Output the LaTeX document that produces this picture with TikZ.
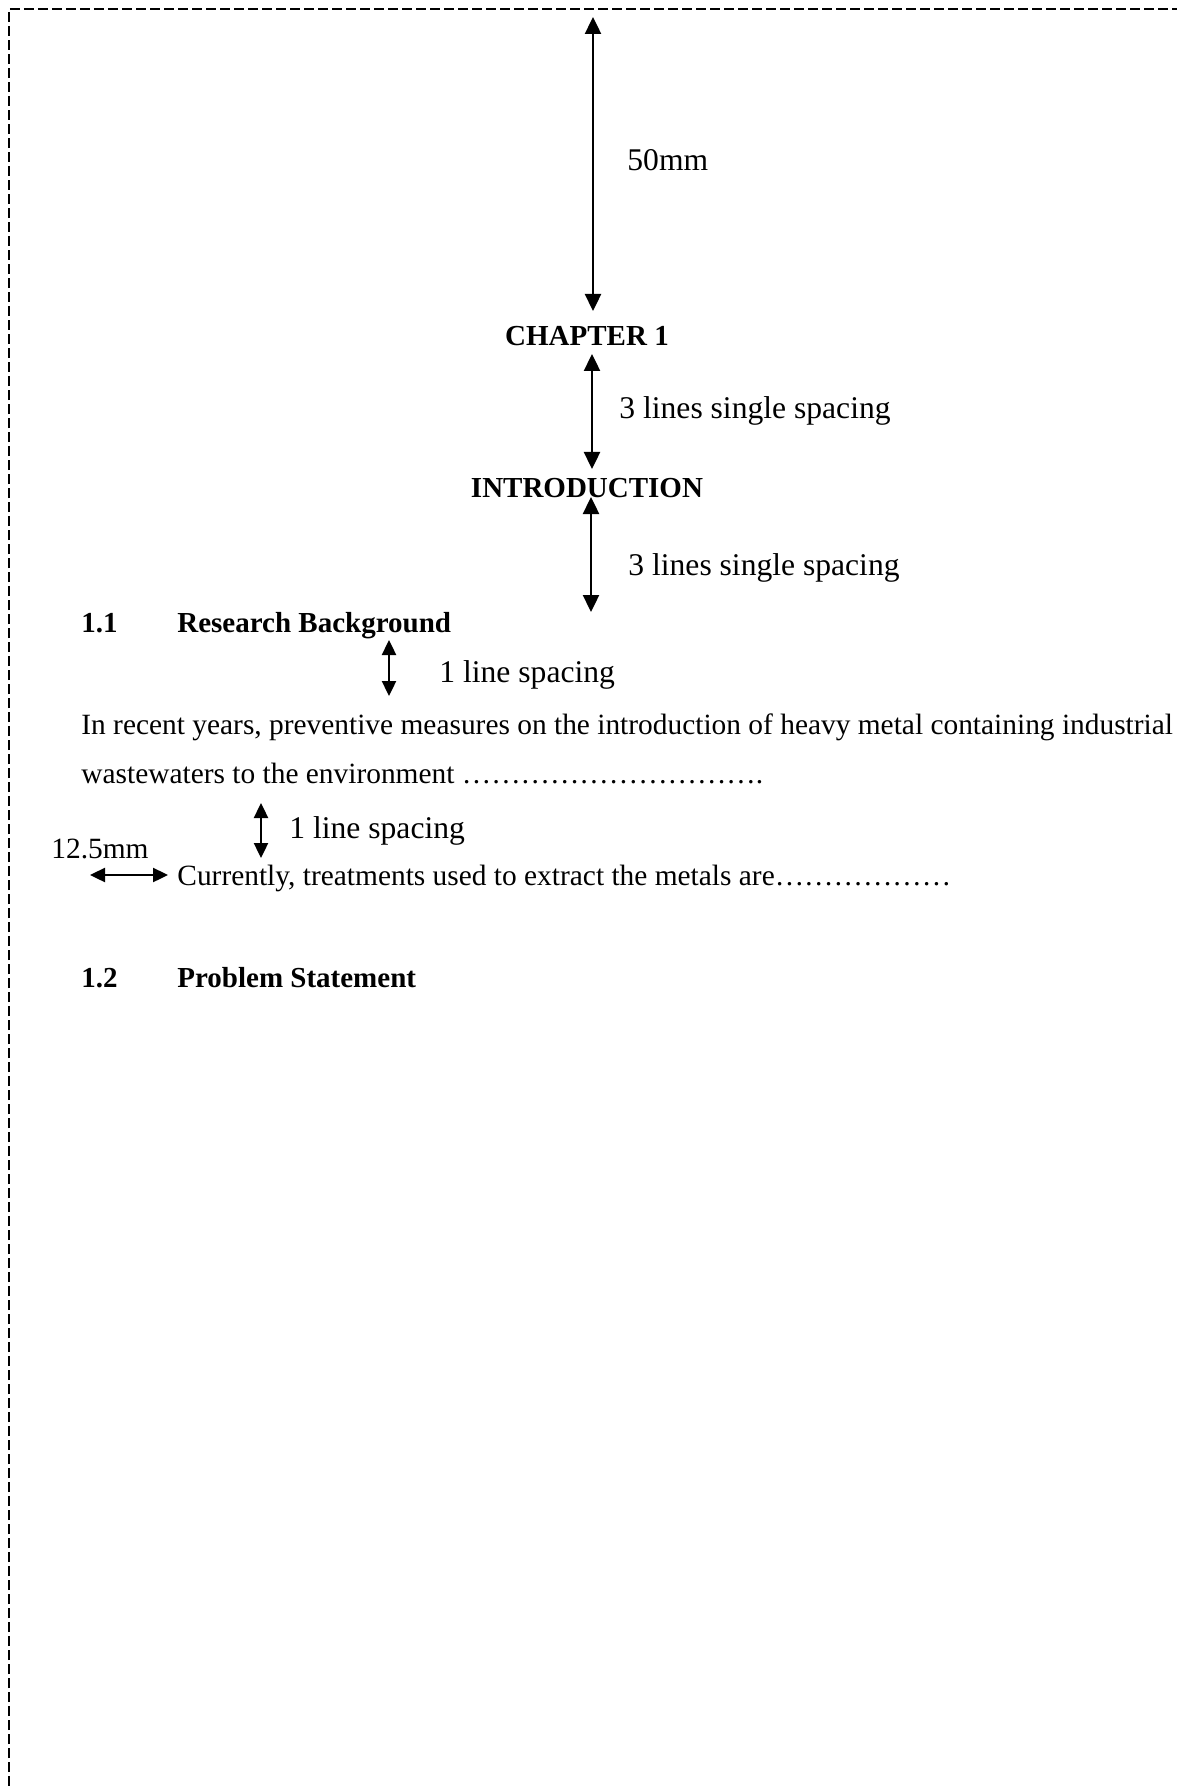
\documentclass[tikz,border=0pt]{standalone}
\usepackage{fontspec}
\setmainfont{Liberation Serif}
\usetikzlibrary{arrows.meta}
\newcommand\myell{…}
\begin{document}
\begin{tikzpicture}[x=0.5pt,y=-0.5pt,
 body/.style={inner sep=0pt, anchor=base west, font=\fontsize{14.7}{17}\selectfont},
 head/.style={inner sep=0pt, anchor=base, font=\fontsize{14.5}{17}\selectfont\bfseries},
 sec/.style={inner sep=0pt, anchor=base west, font=\fontsize{14.5}{17}\selectfont\bfseries},
 lbl/.style={inner sep=0pt, anchor=base west, font=\fontsize{15.8}{19}\selectfont},
 dim/.style={line width=1.2pt, {Triangle[length=8.5pt,width=8pt]}-{Triangle[length=8.5pt,width=8pt]}},
 dimsm/.style={line width=1.2pt, {Triangle[length=7.5pt,width=7pt]}-{Triangle[length=7.5pt,width=7pt]}},
 border/.style={line width=1pt, dash pattern=on 5pt off 2pt}]
\useasboundingbox (0,0) rectangle (1177,1786);
% page border (dashed)
\coordinate (bl) at (9,1786);
\coordinate (tl) at (9,9);
\coordinate (tr) at (1177,9);
\draw[border] (bl) -- (tl) -- (tr);
% texts
\node[head] (ch) at (587,346) {CHAPTER 1};
\node[head] (intro) at (587,497) {INTRODUCTION};
\node[lbl] (l50) at (627,171) {50mm};
\node[lbl] (l3a) at (619,419) {3 lines single spacing};
\node[lbl] (l3b) at (628,575) {3 lines single spacing};
\node[sec] (s11n) at (81,632) {1.1};
\node[sec] (s11) at (177,632) {Research Background};
\node[lbl] (l1a) at (439,682) {1 line spacing};
\node[body] (p1) at (81,734) {In recent years, preventive measures on the introduction of heavy metal containing industrial};
\node[body] (p2) at (81,783) {wastewaters to the environment \myell\myell\myell\myell\myell\myell\myell\myell\myell\myell.};
\node[lbl] (l1b) at (289,838) {1 line spacing};
\node[body] (l125) at (51,858) {12.5mm};
\node[body] (p3) at (177,885) {Currently, treatments used to extract the metals are\myell\myell\myell\myell\myell\myell};
\node[sec] (s12n) at (81,987) {1.2};
\node[sec] (s12) at (177,987) {Problem Statement};
% arrow end points
\coordinate (a1t) at (593,17);  \coordinate (a1b) at (593,311);
\coordinate (a2t) at (592,354); \coordinate (a2b) at (592,469);
\coordinate (a3t) at (591,497); \coordinate (a3b) at (591,612);
\coordinate (a4t) at (389,640); \coordinate (a4b) at (389,696);
\coordinate (a5t) at (261,803); \coordinate (a5b) at (261,858);
\coordinate (a6l) at (90,875);  \coordinate (a6r) at (168,875);
\draw[dim] (a1t) -- (a1b);
\draw[dim] (a2t) -- (a2b);
\draw[dim] (a3t) -- (a3b);
\draw[dimsm] (a4t) -- (a4b);
\draw[dimsm] (a5t) -- (a5b);
\draw[dimsm] (a6l) -- (a6r);
\end{tikzpicture}
\end{document}
